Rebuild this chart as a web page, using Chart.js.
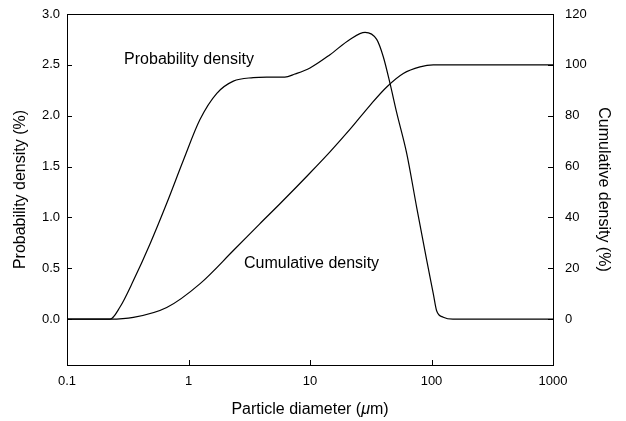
<!DOCTYPE html>
<html>
<head>
<meta charset="utf-8">
<style>
  html, body { margin: 0; padding: 0; background: #fff; }
  canvas { display: block; }
</style>
</head>
<body>
<canvas id="psdChart" width="626" height="421"></canvas>

<script src="https://cdn.jsdelivr.net/npm/chart.js@4.4.1/dist/chart.umd.min.js"></script>
<script>
// particle diameter (um) and probability density (%)
var pdDiameters = [0.1, 0.226, 0.273, 0.352, 0.482, 0.662, 0.906, 1.24, 1.71, 2.34, 3.41, 4.4, 6.2, 7.5, 10.0, 14.6, 21.3, 28.4, 35.4, 40.1, 45.5, 51.7, 62.5, 75.5, 91.3, 103.5, 110.4, 125, 150, 1000];
var pdValues    = [0, 0, 0.12, 0.38, 0.74, 1.14, 1.56, 1.96, 2.22, 2.34, 2.375, 2.38, 2.38, 2.41, 2.47, 2.60, 2.75, 2.82, 2.75, 2.58, 2.32, 2.03, 1.63, 1.10, 0.58, 0.25, 0.08, 0.02, 0, 0];

// particle diameter (um) and cumulative density (%)
var cumDiameters = [0.1, 0.226, 0.352, 0.662, 1.24, 2.34, 3.86, 5.66, 10.0, 14.6, 21.3, 31.2, 42.8, 58.6, 80.4, 103.5, 1000];
var cumValues    = [0, 0, 0.7, 4.6, 13.9, 27.0, 37.5, 45.4, 57.5, 65.8, 74.6, 84.1, 91.3, 96.6, 99.2, 100, 100];

var xTicks = [0.1, 1, 10, 100, 1000];
var xTickLabels = ['0.1', '1', '10', '100', '1000'];
var leftTicks = [0, 0.5, 1.0, 1.5, 2.0, 2.5, 3.0];
var rightTicks = [0, 20, 40, 60, 80, 100, 120];

// in-plot labels
var noteTexts = ['Probability density', 'Cumulative density'];
var noteX = [0.295, 2.86];
var noteY = [2.55, 0.55];

var FONT = '"Liberation Sans", Arial, sans-serif';

function toPoints(xs, ys) {
    return xs.map(function(x, i) { return { x: x, y: ys[i] }; });
}

// frame, inward ticks, notes and the x title with italic mu
var framePlugin = {
    id: 'frame',
    afterDraw: function(chart) {
        var ctx = chart.ctx;
        var a = chart.chartArea;
        var sx = chart.scales.x, sy = chart.scales.y, sy2 = chart.scales.y2;
        ctx.save();
        ctx.strokeStyle = '#000';
        ctx.lineWidth = 1;
        ctx.strokeRect(Math.round(a.left) + 0.5, Math.round(a.top) + 0.5,
                       Math.round(a.right - a.left), Math.round(a.bottom - a.top));
        ctx.beginPath();
        xTicks.forEach(function(v) {
            var px = Math.round(sx.getPixelForValue(v)) + 0.5;
            ctx.moveTo(px, a.bottom); ctx.lineTo(px, a.bottom - 5);
        });
        leftTicks.forEach(function(v) {
            var py = Math.round(sy.getPixelForValue(v)) + 0.5;
            ctx.moveTo(a.left, py); ctx.lineTo(a.left + 5, py);
        });
        rightTicks.forEach(function(v) {
            var py = Math.round(sy2.getPixelForValue(v)) + 0.5;
            ctx.moveTo(a.right, py); ctx.lineTo(a.right - 5, py);
        });
        ctx.stroke();

        ctx.fillStyle = '#000';
        ctx.font = '16px ' + FONT;
        ctx.textBaseline = 'middle';
        ctx.textAlign = 'left';
        noteTexts.forEach(function(t, i) {
            ctx.fillText(t, sx.getPixelForValue(noteX[i]), sy.getPixelForValue(noteY[i]));
        });

        // x axis title
        var parts = [['Particle diameter (', 'normal'], ['\u03bc', 'italic'], ['m)', 'normal']];
        var total = 0;
        parts.forEach(function(p) {
            ctx.font = p[1] + ' 16px ' + FONT;
            total += ctx.measureText(p[0]).width;
        });
        var cx = (a.left + a.right) / 2 - total / 2;
        var ty = a.bottom + 45;
        parts.forEach(function(p) {
            ctx.font = p[1] + ' 16px ' + FONT;
            ctx.fillText(p[0], cx, ty);
            cx += ctx.measureText(p[0]).width;
        });
        ctx.restore();
    }
};

function fixWidth(w) {
    return function(scale) {
        scale.width = w;
        scale.paddingTop = 0;
        scale.paddingBottom = 0;
    };
}

var ctx = document.getElementById('psdChart').getContext('2d');
var chart = new Chart(ctx, {
    type: 'line',
    data: {
        datasets: [{
            label: 'Probability density',
            data: toPoints(pdDiameters, pdValues),
            yAxisID: 'y',
            borderColor: '#000',
            borderWidth: 1.2,
            pointRadius: 0,
            cubicInterpolationMode: 'monotone'
        },
        {
            label: 'Cumulative density',
            data: toPoints(cumDiameters, cumValues),
            yAxisID: 'y2',
            borderColor: '#000',
            borderWidth: 1.2,
            pointRadius: 0,
            cubicInterpolationMode: 'monotone'
        }]
    },
    options: {
        responsive: false,
        animation: false,
        layout: { padding: { top: 14, right: 0, bottom: 0, left: 0 } },
        plugins: {
            legend: { display: false },
            tooltip: { enabled: false }
        },
        scales: {
            x: {
                type: 'logarithmic',
                position: 'bottom',
                min: 0.1,
                max: 1000,
                grid: { display: false, drawTicks: false },
                border: { display: false },
                afterBuildTicks: function(scale) {
                    scale.ticks = xTicks.map(function(v) { return { value: v }; });
                },
                afterFit: function(scale) {
                    scale.height = 56;
                    scale.paddingLeft = 0;
                    scale.paddingRight = 0;
                },
                ticks: {
                    color: '#000',
                    padding: 9,
                    maxRotation: 0,
                    autoSkip: false,
                    font: { family: FONT, size: 13 },
                    callback: function(value) {
                        var i = xTicks.indexOf(value);
                        return i >= 0 ? xTickLabels[i] : '';
                    }
                }
            },
            y: {
                position: 'left',
                min: -0.45,
                max: 3.0,
                grid: { display: false, drawTicks: false },
                border: { display: false },
                afterBuildTicks: function(scale) {
                    scale.ticks = leftTicks.map(function(v) { return { value: v }; });
                },
                afterFit: fixWidth(67),
                ticks: {
                    color: '#000',
                    padding: 7,
                    font: { family: FONT, size: 13 },
                    callback: function(value) { return value.toFixed(1); }
                },
                title: {
                    display: true,
                    text: 'Probability density (%)',
                    color: '#000',
                    font: { family: FONT, size: 16 },
                    padding: { top: 11, bottom: 0 }
                }
            },
            y2: {
                position: 'right',
                min: -18,
                max: 120,
                grid: { display: false, drawTicks: false },
                border: { display: false },
                afterBuildTicks: function(scale) {
                    scale.ticks = rightTicks.map(function(v) { return { value: v }; });
                },
                afterFit: fixWidth(73),
                ticks: {
                    color: '#000',
                    padding: 12,
                    font: { family: FONT, size: 13 },
                    callback: function(value) { return String(value); }
                },
                title: {
                    display: true,
                    text: 'Cumulative density (%)',
                    color: '#000',
                    font: { family: FONT, size: 16 },
                    padding: { top: 13, bottom: 0 }
                }
            }
        }
    },
    plugins: [framePlugin]
});
</script>
</body>
</html>
